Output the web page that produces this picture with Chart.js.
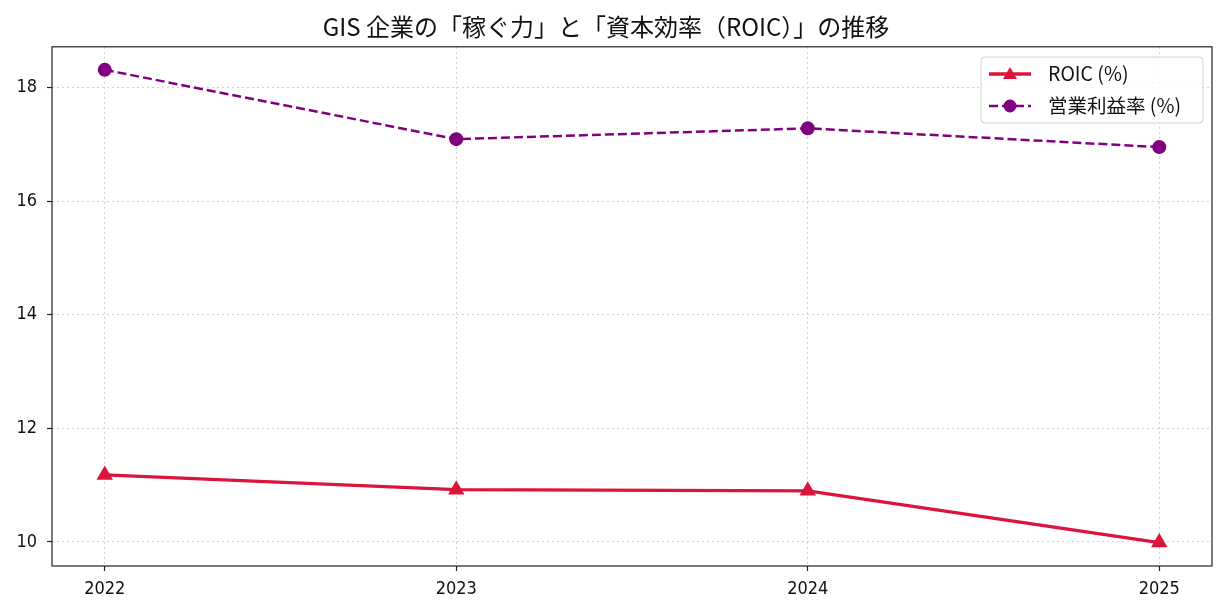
<!DOCTYPE html>
<html>
<head>
<meta charset="utf-8">
<script src="https://cdn.jsdelivr.net/npm/chart.js@4"></script>
<style>
  html, body { margin: 0; padding: 0; background: #fff; }
  #wrap { width: 1228px; height: 616px; }
</style>
</head>
<body>
<div id="wrap"><canvas id="grafico"></canvas></div>
<script>
// datos
const anios = [2022, 2023, 2024, 2025];
const roic = [11.18, 10.92, 10.90, 9.99];
const margenOperativo = [18.31, 17.09, 17.28, 16.95];
const ticksY = [10, 12, 14, 16, 18];
const etiquetas = ['ROIC (%)', '営業利益率 (%)'];
const titulo = 'GIS 企業の「稼ぐ力」と「資本効率（ROIC）」の推移';

const FUENTE = "'Liberation Sans Narrow', 'DejaVu Sans Condensed', 'Noto Sans CJK JP', sans-serif";
const FUENTE_JP = "'Noto Sans CJK JP', 'DejaVu Sans Condensed', sans-serif";

// marco de ejes + leyenda con linea y marcador
const pluginMarco = {
    id: 'marco',
    afterDraw(chart) {
        const { ctx, chartArea: a } = chart;
        ctx.save();
        ctx.strokeStyle = '#222';
        ctx.lineWidth = 1.2;
        ctx.strokeRect(a.left, a.top, a.right - a.left, a.bottom - a.top);

        // leyenda
        const x0 = 981, y0 = 57, w = 222, h = 66;
        ctx.fillStyle = 'rgba(255,255,255,0.85)';
        ctx.strokeStyle = '#d0d0d0';
        ctx.lineWidth = 1;
        ctx.beginPath();
        ctx.roundRect(x0, y0, w, h, 4);
        ctx.fill();
        ctx.stroke();

        chart.data.datasets.forEach((ds, i) => {
            const y = y0 + 17 + i * 32;
            ctx.strokeStyle = ds.borderColor;
            ctx.lineWidth = ds.borderWidth;
            ctx.setLineDash(ds.borderDash || []);
            ctx.beginPath();
            ctx.moveTo(989, y);
            ctx.lineTo(1031, y);
            ctx.stroke();
            ctx.setLineDash([]);
            ctx.fillStyle = ds.pointBackgroundColor;
            const mx = 1010;
            ctx.beginPath();
            if (ds.pointStyle === 'triangle') {
                ctx.moveTo(mx, y - 7);
                ctx.lineTo(mx + 7, y + 5);
                ctx.lineTo(mx - 7, y + 5);
                ctx.closePath();
            } else {
                ctx.arc(mx, y, 6.5, 0, Math.PI * 2);
            }
            ctx.fill();
            ctx.fillStyle = '#111';
            ctx.font = '19.5px ' + FUENTE_JP;
            ctx.textBaseline = 'middle';
            ctx.fillText(ds.label, 1048, y);
        });
        ctx.restore();
    }
};

const ctx = document.getElementById('grafico');
new Chart(ctx.getContext('2d'), {
    type: 'line',
    data: {
        datasets: [{
            label: etiquetas[0],
            data: anios.map((a, i) => ({ x: a, y: roic[i] })),
            borderColor: '#dc143c',
            backgroundColor: '#dc143c',
            pointBackgroundColor: '#dc143c',
            pointBorderWidth: 0,
            borderWidth: 3.3,
            pointStyle: 'triangle',
            pointRadius: 9.5,
            tension: 0
        }, {
            label: etiquetas[1],
            data: anios.map((a, i) => ({ x: a, y: margenOperativo[i] })),
            borderColor: '#800080',
            backgroundColor: '#800080',
            pointBackgroundColor: '#800080',
            pointBorderWidth: 0,
            borderWidth: 2.5,
            borderDash: [9, 4],
            pointStyle: 'circle',
            pointRadius: 7,
            tension: 0
        }]
    },
    options: {
        responsive: true,
        maintainAspectRatio: false,
        animation: false,
        layout: { padding: { left: 0, right: 16, top: 0, bottom: 0 } },
        plugins: {
            legend: { display: false },
            tooltip: { enabled: false },
            title: {
                display: true,
                text: titulo,
                color: '#111',
                font: { family: FUENTE_JP, size: 24, weight: 'normal', lineHeight: 1.2 },
                padding: { top: 12, bottom: 6 }
            }
        },
        scales: {
            x: {
                type: 'linear',
                min: 2021.85,
                max: 2025.15,
                afterBuildTicks: s => { s.ticks = anios.map(v => ({ value: v })); },
                afterFit: s => { s.height = 50; },
                ticks: {
                    color: '#111',
                    padding: 8,
                    font: { family: FUENTE, size: 18 },
                    callback: v => String(v),
                    maxRotation: 0
                },
                grid: {
                    color: '#cfcfcf',
                    lineWidth: 1,
                    tickColor: '#222',
                    tickLength: 5,
                    tickWidth: 1.2
                },
                border: { display: false, dash: [2, 3] }
            },
            y: {
                min: 9.5765,
                max: 18.7155,
                afterBuildTicks: s => { s.ticks = ticksY.map(v => ({ value: v })); },
                afterFit: s => { s.width = 52; },
                ticks: {
                    color: '#111',
                    padding: 10,
                    font: { family: FUENTE, size: 18 }
                },
                grid: {
                    color: '#cfcfcf',
                    lineWidth: 1,
                    tickColor: '#222',
                    tickLength: 5,
                    tickWidth: 1.2
                },
                border: { display: false, dash: [2, 3] }
            }
        }
    },
    plugins: [pluginMarco]
});
</script>
</body>
</html>
